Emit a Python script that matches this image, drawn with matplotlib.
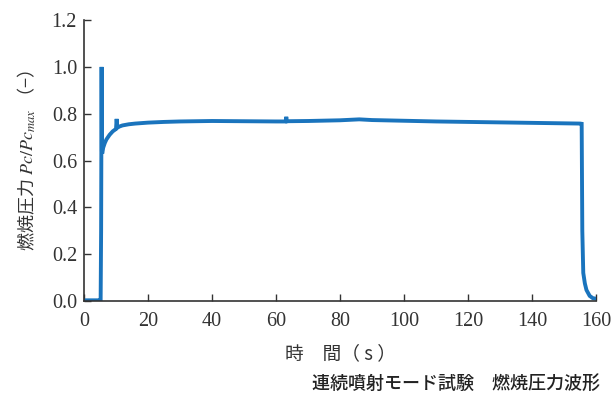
import matplotlib
matplotlib.use("Agg")
import matplotlib.pyplot as plt

# ===== データ =====
t = [0.0, 2.0, 4.0, 5.0, 5.2, 5.35, 5.5, 5.6, 5.7, 6.0, 6.5, 7.0, 8.0, 9.0, 10.0, 10.2, 10.4,
     11.0, 12.0, 14.0, 16.0, 20.0, 25.0, 30.0, 40.0, 50.0, 60.0, 63.0, 63.2, 63.4, 70.0,
     80.0, 86.0, 90.0, 100.0, 110.0, 120.0, 130.0, 140.0, 150.0, 155.0, 155.5, 155.7,
     156.0, 156.5, 157.0, 158.0, 159.0, 160.0]
pc = [0.003, 0.003, 0.003, 0.003, 0.004, 0.3, 1.0, 0.64, 0.63, 0.655, 0.675, 0.69, 0.71,
      0.725, 0.735, 0.778, 0.74, 0.745, 0.75, 0.755, 0.758, 0.762, 0.765, 0.767, 0.769,
      0.768, 0.767, 0.767, 0.787, 0.768, 0.769, 0.772, 0.776, 0.773, 0.77, 0.767, 0.765,
      0.763, 0.761, 0.759, 0.758, 0.757, 0.3, 0.12, 0.075, 0.047, 0.022, 0.012, 0.01]

x_ticks = [0, 20, 40, 60, 80, 100, 120, 140, 160]
y_ticks = [0.0, 0.2, 0.4, 0.6, 0.8, 1.0, 1.2]

plt.rcParams['font.family'] = 'serif'
plt.rcParams['font.serif'] = ['Liberation Serif']
plt.rcParams['mathtext.fontset'] = 'stix'

fig = plt.figure(figsize=(6.14, 3.94), dpi=100)
ax = fig.add_axes([0.1368, 0.236, 0.834, 0.713])

ax.plot(t, pc, color='#1a74bd', lw=2.8, solid_joinstyle='miter')

ax.set_xlim(0, 160)
ax.set_ylim(0, 1.2)
ax.set_xticks(x_ticks)
ax.set_yticks(y_ticks)
ax.set_yticklabels([f"{v:.1f}" for v in y_ticks])
ax.tick_params(direction='in', length=5, width=1, labelsize=14.5, color='#333333',
               labelcolor='#333333')
ax.tick_params(axis='x', pad=8)
ax.tick_params(axis='y', pad=5)
ax.spines['top'].set_visible(False)
ax.spines['right'].set_visible(False)
for s in ['left', 'bottom']:
    ax.spines[s].set_color('#333333')
    ax.spines[s].set_linewidth(1.2)

ax.set_xlabel("時　間（ s ）", family=['Noto Sans CJK JP'], fontsize=13.5, labelpad=9,
              color='#333333')
ax.set_ylabel(r"燃焼圧力 $Pc/Pc_{max}$ （−）", family=['Noto Sans CJK JP', 'DejaVu Sans'],
              fontsize=13, labelpad=10, color='#333333')

fig.text(0.977, 0.026, "連続噴射モード試験　燃焼圧力波形", ha='right', va='center',
         family=['Noto Sans CJK JP'], fontsize=13, weight='medium', color='#222222')

fig.savefig("out.png", dpi=100)
